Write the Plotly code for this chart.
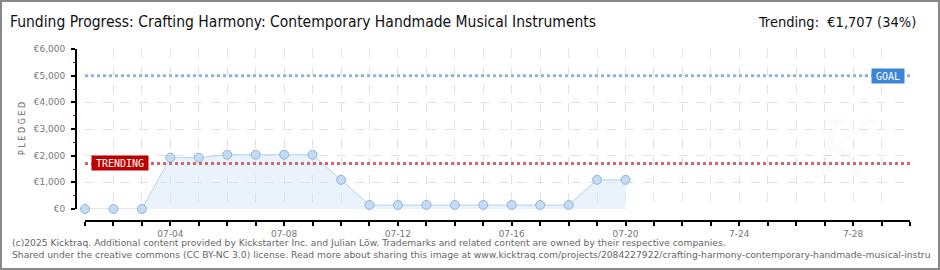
import plotly.graph_objects as go

# ---- data ----
dates = ["2025-07-01", "2025-07-02", "2025-07-03", "2025-07-04", "2025-07-05",
         "2025-07-06", "2025-07-07", "2025-07-08", "2025-07-09", "2025-07-10",
         "2025-07-11", "2025-07-12", "2025-07-13", "2025-07-14", "2025-07-15",
         "2025-07-16", "2025-07-17", "2025-07-18", "2025-07-19", "2025-07-20"]
pledged = [0, 0, 0, 1925, 1925, 2035, 2035, 2035, 2035, 1095,
           150, 150, 150, 150, 150, 150, 150, 150, 1095, 1095]
goal = 5000
trending = 1707

tick_days = ["2025-07-%02d" % d for d in range(1, 31)]
label_map = {"2025-07-04": "07-04", "2025-07-08": "07-08", "2025-07-12": "07-12",
             "2025-07-16": "07-16", "2025-07-20": "07-20", "2025-07-24": "7-24",
             "2025-07-28": "7-28"}
tick_text = [label_map.get(d, "") for d in tick_days]
y_ticks = [0, 1000, 2000, 3000, 4000, 5000, 6000]
y_text = ["€0", "€1,000", "€2,000", "€3,000", "€4,000", "€5,000", "€6,000"]
y_minor = [500, 1500, 2500, 3500, 4500, 5500]

title = "Funding Progress: Crafting Harmony: Contemporary Handmade Musical Instruments"
trend_title = "Trending:  €1,707 (34%)"
footer1 = "(c)2025 Kicktraq. Additional content provided by Kickstarter Inc. and Julian Löw. Trademarks and related content are owned by their respective companies."
footer2 = "Shared under the creative commons (CC BY-NC 3.0) license. Read more about sharing this image at www.kicktraq.com/projects/2084227922/crafting-harmony-contemporary-handmade-musical-instru"

W, H = 940, 270
L, R, T, B = 76, 30, 49, 49
plot_w = W - L - R
plot_h = H - T - B
xdom0 = (85 - L) / plot_w
ydom0 = (221 - 209) / plot_h


def px_x(px):
    return (px - L) / plot_w


def px_y(py):
    return (H - B - py) / plot_h


fig = go.Figure()

fig.add_trace(go.Scatter(
    x=dates, y=pledged, mode="lines+markers",
    line=dict(color="#b5d2f0", width=1),
    fill="tozeroy", fillcolor="rgba(214,232,250,0.5)",
    marker=dict(size=9, color="#c2dcf7", line=dict(color="#97b3d3", width=1)),
    cliponaxis=False, hoverinfo="skip", showlegend=False,
))

# goal / trending lines
fig.add_shape(type="line", xref="x", yref="y", x0="2025-07-01", x1="2025-07-30",
              y0=goal, y1=goal, line=dict(color="#8fb3dd", width=3, dash="dot"), layer="above")
fig.add_shape(type="line", xref="x", yref="y", x0="2025-07-01", x1="2025-07-30",
              y0=trending, y1=trending, line=dict(color="#d06a6a", width=3, dash="dot"), layer="above")

# labels
fig.add_annotation(xref="paper", yref="y", x=px_x(888), y=goal,
                   text="GOAL", showarrow=False, bgcolor="#3d85d6",
                   font=dict(family="DejaVu Sans Mono", size=10, color="white"),
                   borderpad=1, width=30, height=12, xanchor="center", yanchor="middle")
fig.add_annotation(xref="paper", yref="y", x=px_x(120), y=trending,
                   text="TRENDING", showarrow=False, bgcolor="#c00000",
                   font=dict(family="DejaVu Sans Mono", size=10, color="white"),
                   borderpad=1, width=54, height=12, xanchor="center", yanchor="middle")

# watermark
fig.add_annotation(xref="paper", yref="paper", x=px_x(880), y=px_y(150),
                   text="<i>K</i>", showarrow=False,
                   font=dict(family="DejaVu Serif", size=80, color="rgba(0,0,0,0.015)"))

# titles
fig.add_annotation(xref="paper", yref="paper", x=px_x(8), y=px_y(22), xanchor="left", yanchor="middle",
                   text=title, showarrow=False,
                   font=dict(family="DejaVu Sans Condensed", size=15.5, color="#111"))
fig.add_annotation(xref="paper", yref="paper", x=px_x(918), y=px_y(22), xanchor="right", yanchor="middle",
                   text=trend_title, showarrow=False,
                   font=dict(family="DejaVu Sans Condensed", size=14.5, color="#111"))

# y-axis title
fig.add_annotation(xref="paper", yref="paper", x=px_x(22), y=px_y(129), text="P L E D G E D",
                   textangle=-90, showarrow=False, xanchor="center",
                   font=dict(family="DejaVu Sans", size=8, color="#666"))

# footer
for i, txt in enumerate([footer1, footer2]):
    fig.add_annotation(xref="paper", yref="paper", x=px_x(10), y=px_y(242 + 13 * i),
                       xanchor="left", yanchor="middle", text=txt, showarrow=False,
                       font=dict(family="DejaVu Sans", size=9.2, color="#666"))

# frame
fig.add_shape(type="rect", xref="paper", yref="paper",
              x0=px_x(1), x1=px_x(939), y0=px_y(1), y1=px_y(269),
              line=dict(color="#888", width=2))

fig.update_layout(
    width=W, height=H,
    margin=dict(l=L, r=R, t=T, b=B, pad=0),
    paper_bgcolor="white", plot_bgcolor="white",
    xaxis=dict(type="date", range=["2025-07-01", "2025-07-30"], domain=[xdom0, 1],
               anchor="free", position=0,
               tickvals=tick_days, ticktext=tick_text,
               showgrid=True, gridcolor="#e2e2e2", griddash="dash", gridwidth=1,
               showline=True, linecolor="black", linewidth=2,
               ticks="outside", ticklen=4, tickcolor="black", tickwidth=2,
               tickfont=dict(family="DejaVu Sans", size=9, color="#777"),
               zeroline=False, fixedrange=True),
    yaxis=dict(range=[0, 6000], domain=[ydom0, 1], anchor="free", position=0,
               tickvals=y_ticks, ticktext=y_text,
               showgrid=True, gridcolor="#e2e2e2", griddash="dash", gridwidth=1,
               showline=True, linecolor="black", linewidth=2,
               ticks="outside", ticklen=4, tickcolor="black", tickwidth=2,
               ticklabelstandoff=4,
               minor=dict(tickvals=y_minor, ticks="outside",
                          ticklen=2, tickcolor="#e00000", tickwidth=1, showgrid=False),
               tickfont=dict(family="DejaVu Sans", size=9, color="#777"),
               zeroline=False, fixedrange=True),
)

fig.write_html("out.html", config={"displayModeBar": False})
